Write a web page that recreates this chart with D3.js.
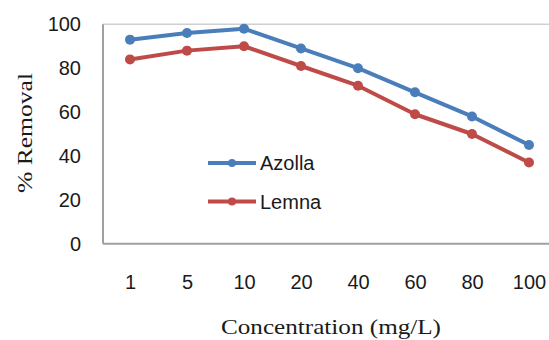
<!DOCTYPE html>
<html>
<head>
<meta charset="utf-8">
<script src="https://cdn.jsdelivr.net/npm/d3@7"></script>
<style>
	body { margin: 0; background: #fff; }
	svg { display: block; }
</style>
</head>
<body>
<div id="chart"></div>
<script>
var categories = ["1", "5", "10", "20", "40", "60", "80", "100"];
var azolla = [93, 96, 98, 89, 80, 69, 58, 45];
var lemna = [84, 88, 90, 81, 72, 59, 50, 37];
var seriesNames = ["Azolla", "Lemna"];
var yTicks = [0, 20, 40, 60, 80, 100];

var width = 549, height = 340;
var plot = {left: 103, right: 560, top: 24.3, bottom: 243.7};
var color = d3.scaleOrdinal().domain(seriesNames).range(["#4A7EBB", "#BE4B48"]);
var sans = "'Liberation Sans', Arial, sans-serif";
var serif = "'Liberation Serif', 'Times New Roman', serif";

var svg = d3.select("#chart").append("svg")
		.attr("width", width)
		.attr("height", height);

// Scales
var xScale = d3.scalePoint()
		.domain(categories)
		.range([130, 529]);

var yScale = d3.scaleLinear()
		.domain([0, 100])
		.range([plot.bottom, plot.top]);

// Top gridline only
svg.append("line")
		.attr("x1", plot.left).attr("x2", plot.right)
		.attr("y1", yScale(d3.max(yTicks))).attr("y2", yScale(d3.max(yTicks)))
		.style("stroke", "#d0d0d0")
		.style("stroke-width", 1.5);

// Axes
var yAxis = d3.axisLeft(yScale).tickValues(yTicks).tickSize(0).tickPadding(22);
var gy = svg.append("g")
		.attr("transform", "translate(" + plot.left + ",0)")
		.call(yAxis);
gy.select(".domain").remove();
gy.selectAll("text")
		.style("font-family", sans)
		.style("font-size", "20px")
		.style("fill", "#1a1a1a");

var xAxis = d3.axisBottom(xScale).tickSize(0).tickPadding(31);
var gx = svg.append("g")
		.attr("transform", "translate(0," + plot.bottom + ")")
		.call(xAxis);
gx.select(".domain").remove();
gx.selectAll("text")
		.style("font-family", sans)
		.style("font-size", "20px")
		.style("fill", "#1a1a1a");

// Axis lines
svg.append("line")
		.attr("x1", plot.left).attr("x2", plot.left)
		.attr("y1", plot.top).attr("y2", plot.bottom)
		.style("stroke", "#a0a0a0").style("stroke-width", 2);
svg.append("line")
		.attr("x1", plot.left).attr("x2", plot.right)
		.attr("y1", plot.bottom).attr("y2", plot.bottom)
		.style("stroke", "#a0a0a0").style("stroke-width", 2);

// Axis titles
svg.append("text")
		.attr("x", 221)
		.attr("y", 334)
		.attr("textLength", 220)
		.attr("lengthAdjust", "spacingAndGlyphs")
		.style("font-family", serif)
		.style("font-size", "22px")
		.style("fill", "#1a1a1a")
		.text("Concentration (mg/L)");

svg.append("text")
		.attr("transform", "translate(32,193) rotate(-90)")
		.attr("textLength", 120)
		.attr("lengthAdjust", "spacingAndGlyphs")
		.style("font-family", serif)
		.style("font-size", "22px")
		.style("fill", "#1a1a1a")
		.text("% Removal");

// Lines
var series = [
	{name: "Azolla", values: azolla},
	{name: "Lemna", values: lemna}
];

var line = d3.line()
		.x(function(d, i) { return xScale(categories[i]); })
		.y(function(d) { return yScale(d); });

var layer = svg.selectAll(".layer")
		.data(series)
	.enter().append("g")
		.attr("class", "layer");

layer.append("path")
		.attr("d", function(d) { return line(d.values); })
		.style("fill", "none")
		.style("stroke", function(d) { return color(d.name); })
		.style("stroke-width", 4)
		.style("stroke-linejoin", "round");

layer.selectAll("circle")
		.data(function(d) { return d.values.map(function(v, i) { return {name: d.name, value: v, cat: categories[i]}; }); })
	.enter().append("circle")
		.attr("cx", function(d) { return xScale(d.cat); })
		.attr("cy", function(d) { return yScale(d.value); })
		.attr("r", 5)
		.style("fill", function(d) { return color(d.name); });

// Legend
var legend = svg.append("g")
		.attr("transform", "translate(208,163)");

var legendItem = legend.selectAll(".legend-item")
		.data(seriesNames)
	.enter().append("g")
		.attr("class", "legend-item")
		.attr("transform", function(d, i) { return "translate(0," + i * 38.5 + ")"; });

legendItem.append("line")
		.attr("x1", 0).attr("x2", 48)
		.style("stroke", function(d) { return color(d); })
		.style("stroke-width", 4);

legendItem.append("circle")
		.attr("cx", 24)
		.attr("r", 4)
		.style("fill", function(d) { return color(d); });

legendItem.append("text")
		.attr("x", 52)
		.attr("dy", "0.36em")
		.style("font-family", sans)
		.style("font-size", "20px")
		.style("fill", "#1a1a1a")
		.text(function(d) { return d; });
</script>
</body>
</html>
